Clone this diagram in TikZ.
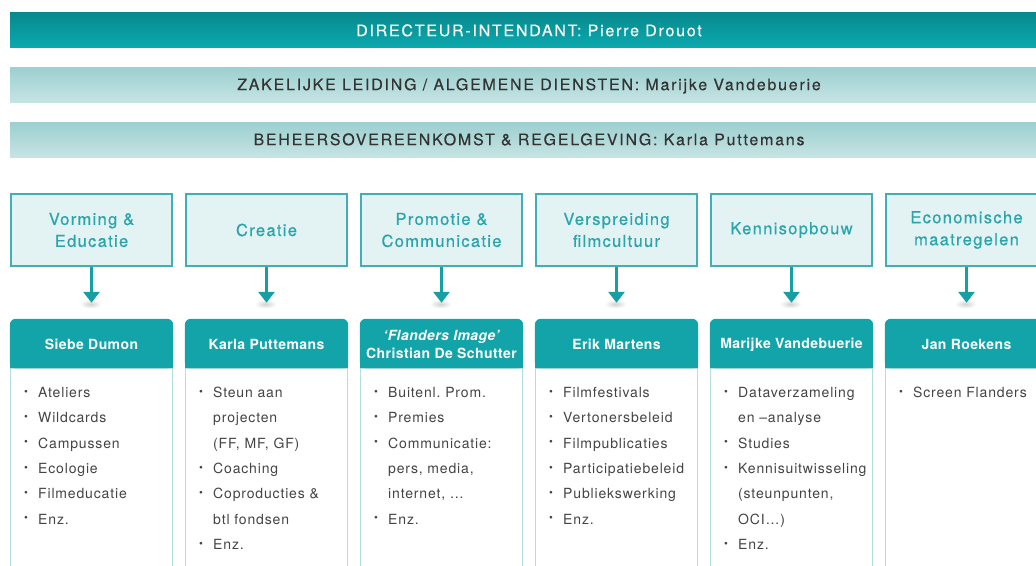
\documentclass[tikz,border=0pt]{standalone}
\usepackage{fontspec}
\usetikzlibrary{arrows.meta}
\setmainfont{TeX Gyre Heros}
\frenchspacing
\newfontfamily\barfont[LetterSpace=11,FakeBold=0.3]{TeX Gyre Heros}
\newfontfamily\titlefont[LetterSpace=8,FakeBold=0.6]{TeX Gyre Heros}
\newfontfamily\namefont[LetterSpace=3]{TeX Gyre Heros}
\newfontfamily\bodyfont[LetterSpace=6]{TeX Gyre Heros}
\definecolor{barAtop}{HTML}{07898D}
\definecolor{barAbot}{HTML}{0AA9AE}
\definecolor{barBtop}{HTML}{9CCFCF}
\definecolor{barBbot}{HTML}{C6E4E4}
\definecolor{bartext}{HTML}{333333}
\definecolor{hfill}{HTML}{E3F2F3}
\definecolor{hdraw}{HTML}{41AFB3}
\definecolor{htext}{HTML}{2AA6AA}
\definecolor{arrowc}{HTML}{17A0A4}
\definecolor{namefill}{HTML}{12A4A8}
\definecolor{bodydraw}{HTML}{B5DEDF}
\definecolor{bodytext}{HTML}{444444}
\tikzset{
  topbar/.style={minimum width=1038pt, minimum height=35pt, inner sep=0pt,
    text height=11.4pt, text depth=0pt, font=\barfont\fontsize{16}{19}\selectfont},
  darkbar/.style={topbar, top color=barAtop, bottom color=barAbot, text=white},
  lightbar/.style={topbar, top color=barBtop, bottom color=barBbot, text=bartext},
  hbox/.style={draw=hdraw, line width=1.6pt, fill=hfill, minimum width=161.4pt,
    minimum height=72.4pt, inner sep=0pt, align=center, text=htext,
    font=\titlefont\fontsize{16.5}{22}\selectfont},
  namebox/.style={minimum width=163pt, minimum height=49pt, inner sep=0pt,
    align=center, text=white, font=\namefont\bfseries\fontsize{14}{18}\selectfont},
  bodybox/.style={draw=bodydraw, line width=1.2pt, fill=white,
    minimum width=161.8pt, minimum height=230pt, inner sep=0pt},
  item/.style={inner sep=0pt, text=bodytext, font=\bodyfont\fontsize{14}{17}\selectfont},
  bul/.style={inner sep=0pt, text=bodytext, font=\fontsize{11}{11}\selectfont},
  arr/.style={draw=arrowc, line width=3pt, -{Triangle[width=16pt,length=11pt]}, shorten >=16pt},
}
\newcommand\mklist[3]{%
  \foreach [count=\k] \b/\t in {#3} {
    \node[item, anchor=base west] (#1-\k) at ({#2+28},{372.15+25.35*\k}) {\t};
    \ifnum\b=1
      \node[bul] (#1-\k-b) at ({#2+16},{367.3+25.35*\k}) {\textbullet};
    \fi
  }}
\begin{document}
\begin{tikzpicture}[x=1pt,y=-1pt]
\useasboundingbox (0,0) rectangle (1036,565);
\begin{scope}
\clip (0,0) rectangle (1036,565);
% top bars
\node[darkbar] (dir) at (529,29.5) {};
\node[inner sep=0pt, text height=11.4pt, text depth=0pt, text=white,
  font=\barfont\fontsize{16}{19}\selectfont] (dirt) at (529,30.5) {DIRECTEUR-INTENDANT: Pierre Drouot};
\node[lightbar] (zak) at (529,84.5) {ZAKELIJKE LEIDING / ALGEMENE DIENSTEN: Marijke Vandebuerie};
\node[lightbar] (beh) at (529,139.5) {BEHEERSOVEREENKOMST \& REGELGEVING: Karla Puttemans};
% columns
\foreach \i/\ttl/\nm in {
  1/{Vorming \&\\Educatie}/{Siebe Dumon},
  2/{Creatie}/{Karla Puttemans},
  3/{Promotie \&\\Communicatie}/{\itshape ‘Flanders Image’\\Christian De Schutter},
  4/{Verspreiding\\filmcultuur}/{Erik Martens},
  5/{Kennisopbouw}/{Marijke Vandebuerie},
  6/{Economische\\maatregelen}/{Jan Roekens}} {
  \pgfmathsetmacro\cx{91.5+175*(\i-1)}
  \node[hbox] (h\i) at (\cx,230) {\ttl};
  \node[namebox] (n\i) at (\cx,343.5) {};
  \node[bodybox, anchor=north] (b\i) at ([yshift=0.6pt]n\i.south) {};
  \fill[namefill, rounded corners=6pt] (n\i.south west) rectangle (n\i.north east);
  \fill[namefill] (n\i.west) rectangle (n\i.south east);
  \node[namebox] (nt\i) at (\cx,344.5) {\nm};
  \shade[inner color=black!30, outer color=white, opacity=0.6] (\cx-1,304) ellipse (11pt and 4.5pt);
  \draw[arr] (h\i.south) -- (n\i.north);
}
\mklist{c1}{10}{1/Ateliers,1/Wildcards,1/Campussen,1/Ecologie,1/Filmeducatie,1/Enz.}
\mklist{c2}{185}{1/Steun aan,0/projecten,0/{(FF, MF, GF)},1/Coaching,1/Coproducties \&,0/btl fondsen,1/Enz.}
\mklist{c3}{360}{1/Buitenl. Prom.,1/Premies,1/Communicatie:,0/{pers, media,},0/{internet, \dots},1/Enz.}
\mklist{c4}{535}{1/Filmfestivals,1/Vertonersbeleid,1/Filmpublicaties,1/Participatiebeleid,1/Publiekswerking,1/Enz.}
\mklist{c5}{710}{1/Dataverzameling,0/en –analyse,1/Studies,1/Kennisuitwisseling,0/{(steunpunten,},0/OCI\dots),1/Enz.}
\mklist{c6}{885}{1/Screen Flanders}
\end{scope}
\end{tikzpicture}
\end{document}
